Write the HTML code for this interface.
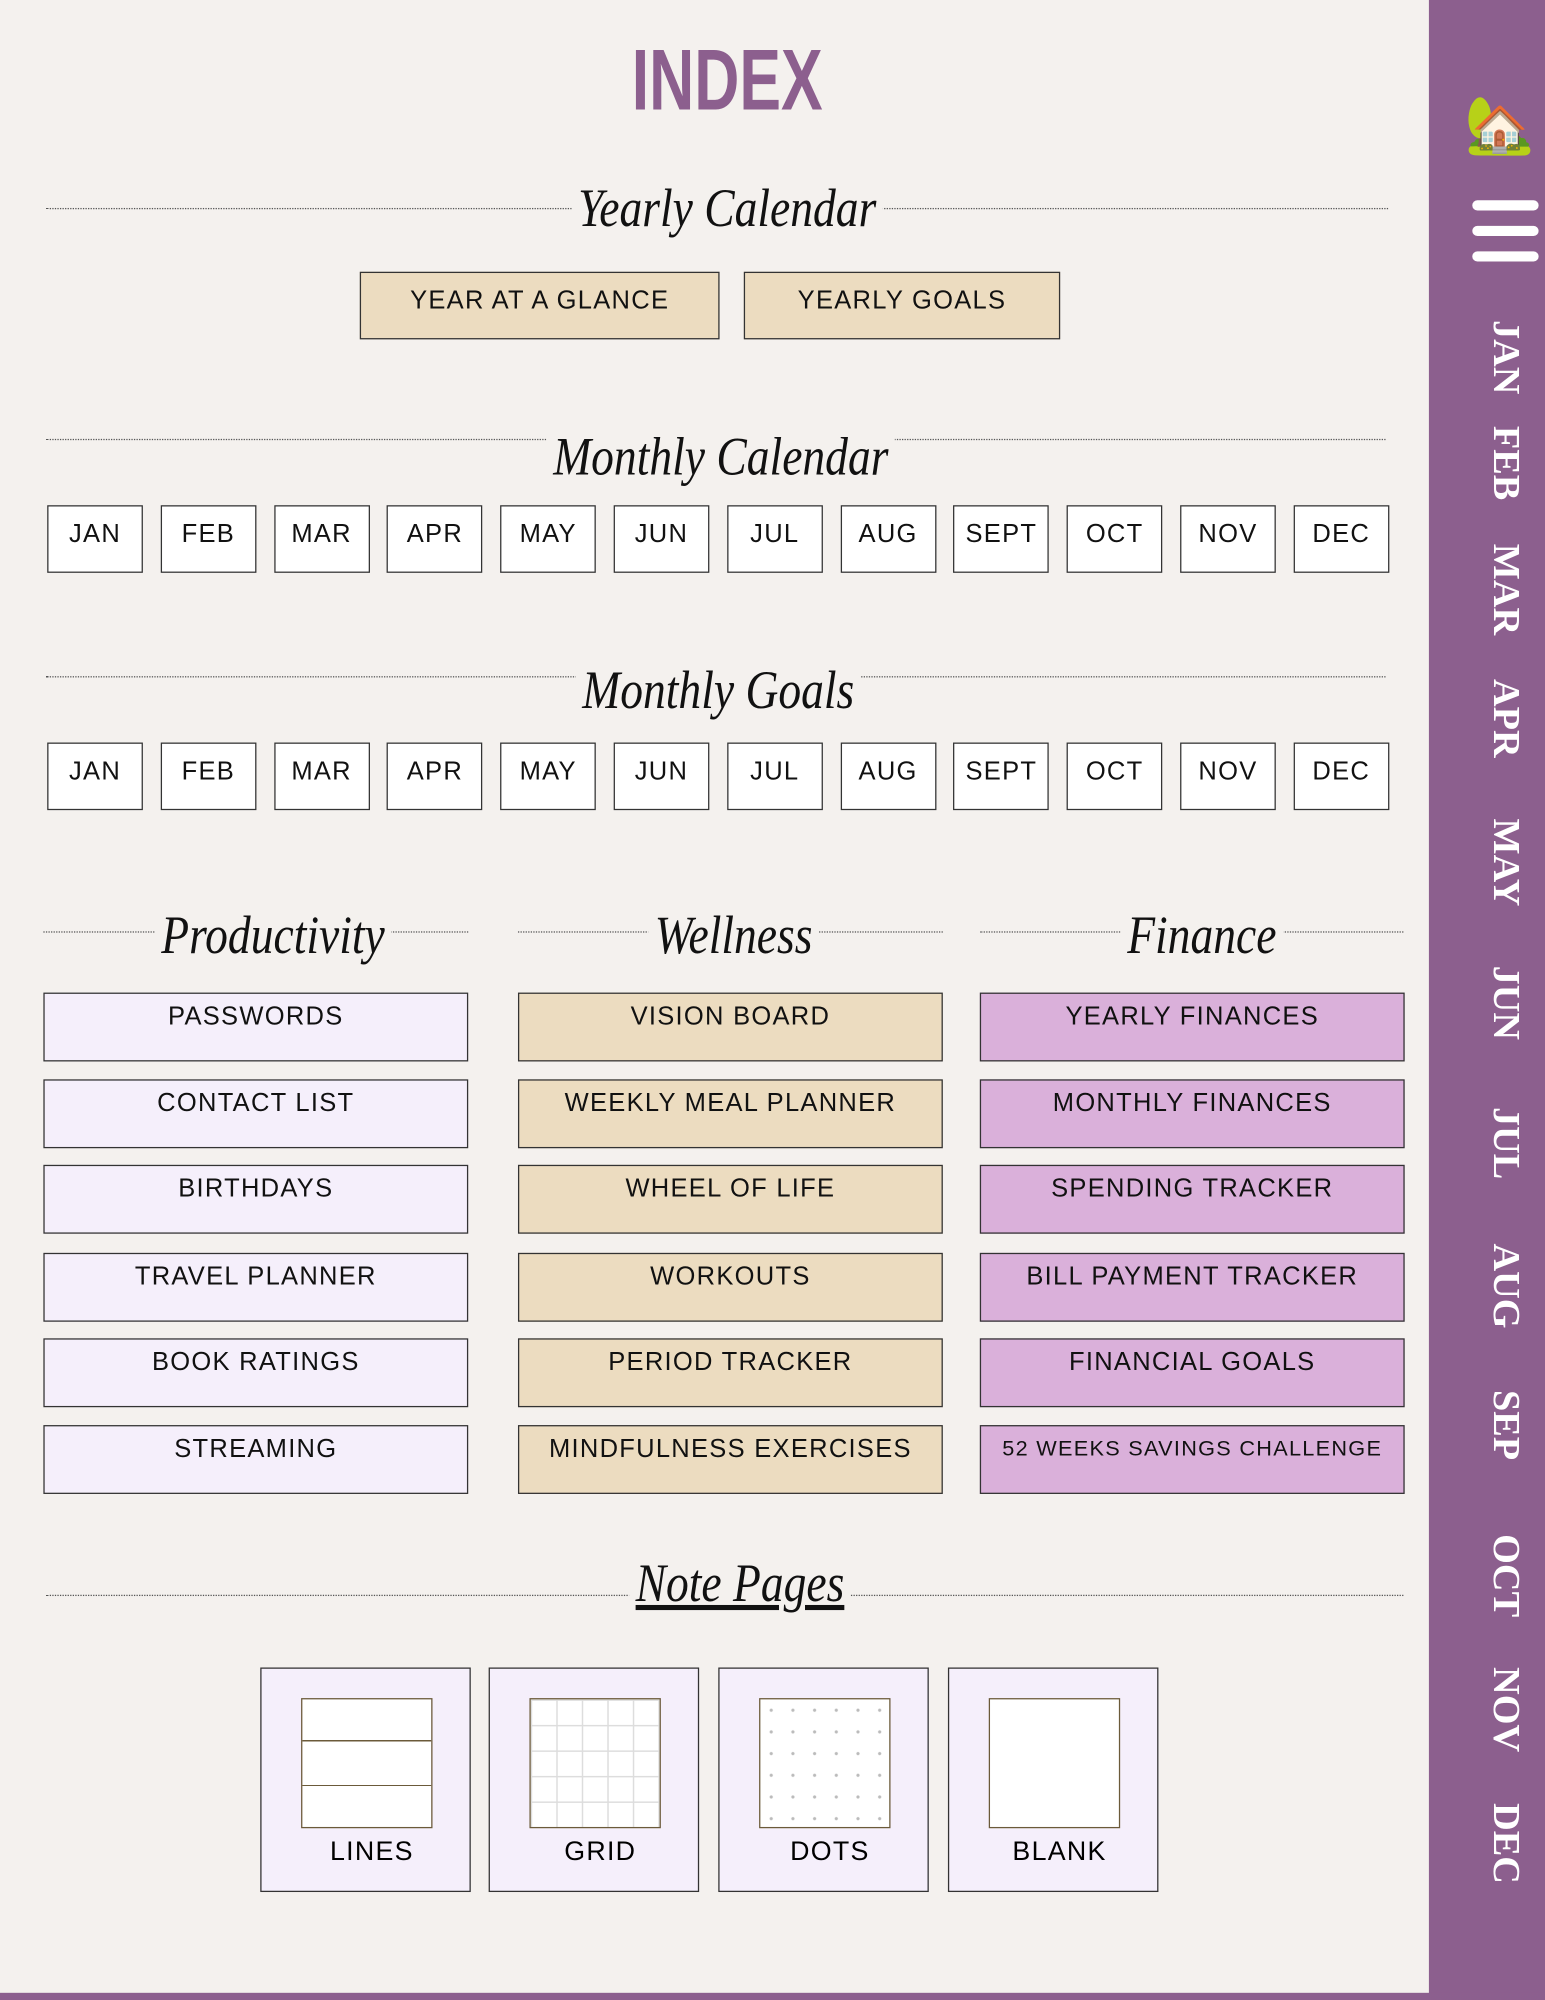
<!DOCTYPE html>
<html><head><meta charset="utf-8"><style>
*{margin:0;padding:0;box-sizing:border-box}
html,body{width:1545px;height:2000px;overflow:hidden;background:#f4f1ee}
#w{position:absolute;left:0;top:0;width:1211px;height:1568px;transform:scale(1.27581);transform-origin:0 0;font-family:"Liberation Sans",sans-serif}
.a{position:absolute}
.dot{position:absolute;height:0;border-top:1.5px dotted #555}
.b{position:absolute;border:1.5px solid #333;color:#111;text-align:center;font-size:20px;letter-spacing:1px}
.m{width:75px;height:53px;background:#fff;line-height:44px}
.s{position:absolute;font-family:"Liberation Serif",serif;font-style:italic;font-size:42px;color:#111;white-space:nowrap;transform:translateX(-50%) scaleX(0.85);background:#f4f1ee;padding:0 6px}
.c{width:333px;height:54px;padding-top:7px}
.p{background:#f5effb}.w{background:#ecdcc0}.f{background:#dab0da}
.card{position:absolute;width:165px;height:176px;background:#f5effb;border:1.5px solid #333;top:1307px}
.in{position:absolute;left:31px;top:23px;width:103px;height:102px;background:#fff;border:1.5px solid #6b5a3a}
.cl{position:absolute;left:0;width:100%;top:132px;text-align:center;font-size:21px;letter-spacing:1px;padding-left:10px}
.mo{position:absolute;left:1180px;color:#fff;font-family:"Liberation Serif",serif;font-weight:bold;font-size:30px;transform:translate(-50%,-50%) rotate(90deg);white-space:nowrap}
</style></head><body><div id="w">
<div class="a" style="left:1120px;top:0;width:91px;height:1568px;background:#8c5f8e"></div>
<div class="a" style="left:0;top:1562px;width:1211px;height:6px;background:#8c5f8e"></div>
<div class="a" style="left:1148px;top:72px;font-size:44px">🏡</div>
<div class="a" style="left:1154px;top:157px;width:52px;height:8px;border-radius:4px;background:#fff"></div>
<div class="a" style="left:1154px;top:177px;width:52px;height:8px;border-radius:4px;background:#fff"></div>
<div class="a" style="left:1154px;top:197px;width:52px;height:8px;border-radius:4px;background:#fff"></div>
<div class="mo" style="top:280px">JAN</div><div class="mo" style="top:363px">FEB</div><div class="mo" style="top:462px">MAR</div><div class="mo" style="top:563px">APR</div><div class="mo" style="top:676px">MAY</div><div class="mo" style="top:786px">JUN</div><div class="mo" style="top:896px">JUL</div><div class="mo" style="top:1008px">AUG</div><div class="mo" style="top:1117px">SEP</div><div class="mo" style="top:1235px">OCT</div><div class="mo" style="top:1340px">NOV</div><div class="mo" style="top:1445px">DEC</div>

<div class="a" style="left:570px;top:24px;transform:translateX(-50%) scaleX(0.72);font-family:'Liberation Sans Narrow','Liberation Sans',sans-serif;font-weight:bold;font-size:68px;color:#8c5f8e">INDEX</div>

<div class="dot" style="left:36px;width:1052px;top:163px"></div>
<div class="s" style="left:570px;top:140px">Yearly Calendar</div>
<div class="b w" style="left:282px;top:213px;width:282px;height:53px;line-height:44px">YEAR AT A GLANCE</div>
<div class="b w" style="left:583px;top:213px;width:248px;height:53px;line-height:44px">YEARLY GOALS</div>

<div class="dot" style="left:36px;width:1050px;top:344px"></div>
<div class="s" style="left:565px;top:335px">Monthly Calendar</div>
<div class="dot" style="left:36px;width:1050px;top:530px"></div>
<div class="s" style="left:563px;top:518px">Monthly Goals</div>

<div id="months"></div>

<div class="dot" style="left:34px;width:333px;top:730px"></div>
<div class="dot" style="left:406px;width:333px;top:730px"></div>
<div class="dot" style="left:768px;width:332px;top:730px"></div>
<div class="s" style="left:214px;top:710px">Productivity</div>
<div class="s" style="left:575px;top:710px">Wellness</div>
<div class="s" style="left:942px;top:710px">Finance</div>

<div class="b c p" style="left:34px;top:778px">PASSWORDS</div>
<div class="b c p" style="left:34px;top:846px">CONTACT LIST</div>
<div class="b c p" style="left:34px;top:913px">BIRTHDAYS</div>
<div class="b c p" style="left:34px;top:982px">TRAVEL PLANNER</div>
<div class="b c p" style="left:34px;top:1049px">BOOK RATINGS</div>
<div class="b c p" style="left:34px;top:1117px">STREAMING</div>
<div class="b c w" style="left:406px;top:778px">VISION BOARD</div>
<div class="b c w" style="left:406px;top:846px">WEEKLY MEAL PLANNER</div>
<div class="b c w" style="left:406px;top:913px">WHEEL OF LIFE</div>
<div class="b c w" style="left:406px;top:982px">WORKOUTS</div>
<div class="b c w" style="left:406px;top:1049px">PERIOD TRACKER</div>
<div class="b c w" style="left:406px;top:1117px">MINDFULNESS EXERCISES</div>
<div class="b c f" style="left:768px;top:778px">YEARLY FINANCES</div>
<div class="b c f" style="left:768px;top:846px">MONTHLY FINANCES</div>
<div class="b c f" style="left:768px;top:913px">SPENDING TRACKER</div>
<div class="b c f" style="left:768px;top:982px">BILL PAYMENT TRACKER</div>
<div class="b c f" style="left:768px;top:1049px">FINANCIAL GOALS</div>
<div class="b c f" style="left:768px;top:1117px;font-size:17px;padding-top:8px">52 WEEKS SAVINGS CHALLENGE</div>

<div class="dot" style="left:36px;width:1064px;top:1250px"></div>
<div class="s" style="left:580px;top:1218px;text-decoration:underline">Note Pages</div>

<div class="card" style="left:204px"><div class="in" style="background:linear-gradient(#fff 32px,#6b5a3a 32px,#6b5a3a 33px,#fff 33px,#fff 67px,#6b5a3a 67px,#6b5a3a 68px,#fff 68px)"></div><div class="cl">LINES</div></div>
<div class="card" style="left:383px"><div class="in" style="background-color:#fff;background-image:linear-gradient(#ddd 1px,transparent 1px),linear-gradient(90deg,#ddd 1px,transparent 1px);background-size:20px 20px"></div><div class="cl">GRID</div></div>
<div class="card" style="left:563px"><div class="in" style="background-color:#fff;background-image:radial-gradient(#bbb 1px,transparent 1.5px);background-size:17px 17px"></div><div class="cl">DOTS</div></div>
<div class="card" style="left:743px"><div class="in"></div><div class="cl">BLANK</div></div>
</div>
<script>
var n=["JAN","FEB","MAR","APR","MAY","JUN","JUL","AUG","SEPT","OCT","NOV","DEC"],h="";
[396,582].forEach(function(t){n.forEach(function(m,i){h+='<div class="b m" style="left:'+(37+i*88.8)+'px;top:'+t+'px">'+m+'</div>';});});
document.getElementById("months").outerHTML=h;
</script>
</body></html>
